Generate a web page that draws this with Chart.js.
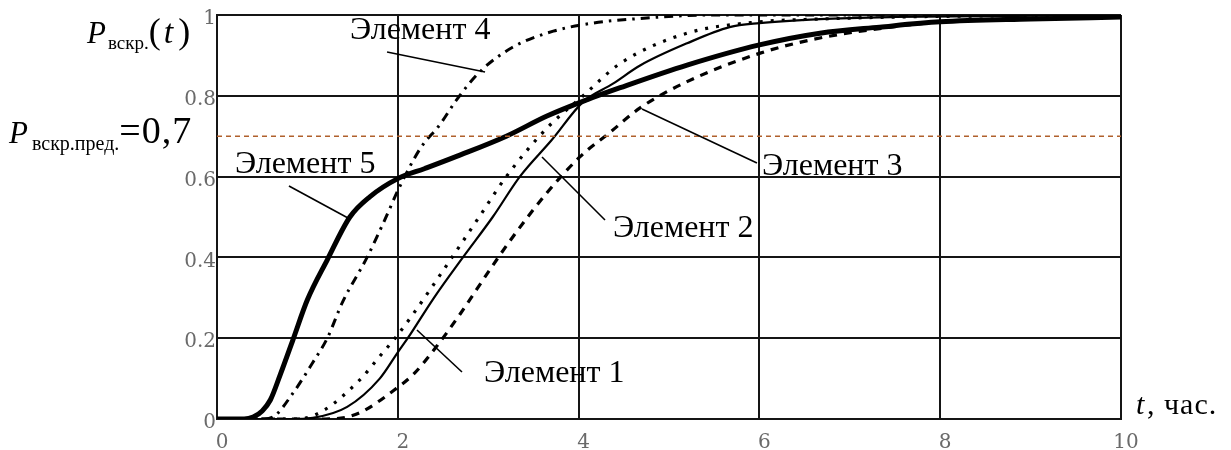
<!DOCTYPE html>
<html><head><meta charset="utf-8">
<script src="https://cdn.jsdelivr.net/npm/chart.js@4.4.1/dist/chart.umd.min.js"></script>
<style>html,body{margin:0;padding:0;background:#fff;}#wrap{width:1231px;height:450px;}</style>
</head><body><div id="wrap"><canvas id="c" width="1231" height="450"></canvas></div>
<script>
// ---- axis ticks ----
const xTicks = [0, 2, 4, 6, 8, 10];
const xTickLabels = ["0", "2", "4", "6", "8", "10"];
const yTicks = [0, 0.2, 0.4, 0.6, 0.8, 1];
const yTickLabels = ["0", "0.2", "0.4", "0.6", "0.8", "1"];

// ---- series (t, hours -> P) ----
const e1T = [0, 0.8, 1.06, 1.44, 1.8, 2.0, 2.11, 2.4, 2.72, 3.05, 3.35, 3.7, 4.05, 4.38, 4.68, 5.2, 5.67, 6.0, 6.67, 7.5, 10];
const e1P = [0, 0, 0.003, 0.03, 0.10, 0.165, 0.20, 0.30, 0.40, 0.50, 0.60, 0.69, 0.785, 0.83, 0.875, 0.93, 0.97, 0.98, 0.99, 0.995, 1.0];

const e2T = [0, 0.9, 1.17, 1.58, 1.8, 1.97, 2.17, 2.6, 2.9, 3.2, 3.65, 4.05, 4.46, 5.2, 6.0, 6.67, 7.5, 10];
const e2P = [0, 0, 0.02, 0.097, 0.155, 0.20, 0.26, 0.40, 0.50, 0.60, 0.72, 0.80, 0.88, 0.955, 0.983, 0.99, 0.995, 1.0];

const e3T = [0, 1.2, 1.44, 1.62, 1.95, 2.17, 2.43, 2.69, 3.02, 3.27, 3.65, 4.02, 4.35, 4.68, 5.2, 6.0, 6.6, 7.22, 8, 9, 10];
const e3P = [0, 0, 0.005, 0.02, 0.07, 0.11, 0.18, 0.26, 0.37, 0.45, 0.56, 0.65, 0.71, 0.77, 0.835, 0.905, 0.94, 0.963, 0.983, 0.99, 0.995];

const e4T = [0, 0.5, 0.62, 0.84, 1.06, 1.22, 1.39, 1.66, 1.85, 2.01, 2.25, 2.47, 2.65, 2.91, 3.27, 3.72, 4.16, 4.6, 5.5, 10];
const e4P = [0, 0, 0.005, 0.064, 0.14, 0.20, 0.29, 0.40, 0.49, 0.57, 0.67, 0.73, 0.79, 0.86, 0.92, 0.96, 0.98, 0.99, 1.0, 1.0];

const e5T = [0, 0.3, 0.4, 0.5, 0.59, 0.7, 0.84, 1.0, 1.22, 1.47, 1.69, 2.0, 2.3, 2.65, 3.2, 3.65, 4.09, 4.46, 5.2, 6.0, 6.67, 7.33, 8, 9, 10];
const e5P = [0, 0, 0.005, 0.02, 0.047, 0.11, 0.196, 0.295, 0.394, 0.50, 0.55, 0.595, 0.62, 0.65, 0.70, 0.75, 0.79, 0.82, 0.876, 0.926, 0.955, 0.97, 0.983, 0.99, 0.995];

const pThreshold = 0.7;
const seriesNames = ["Элемент 1", "Элемент 2", "Элемент 3", "Элемент 4", "Элемент 5"];

// ---- annotation placement (data coords) ----
const labelAt = {
  "Элемент 1": {t: 2.954, p: 0.0916, from: [2.212, 0.2203], to: [2.710, 0.1163]},
  "Элемент 2": {t: 4.381, p: 0.4505, from: [3.595, 0.6485], to: [4.292, 0.4926]},
  "Элемент 3": {t: 6.029, p: 0.604, from: [4.701, 0.7673], to: [5.973, 0.6337]},
  "Элемент 4": {t: 1.471, p: 0.9406, from: [2.965, 0.8589], to: [1.881, 0.9084]},
  "Элемент 5": {t: 0.199, p: 0.6089, from: [1.449, 0.4975], to: [0.796, 0.5767]}
};

const zip = (T, P) => T.map((t, i) => ({x: t, y: P[i]}));

const annot = {
  id: 'annot',
  afterDatasetsDraw(chart) {
    const ctx = chart.ctx, xs = chart.scales.x, ys = chart.scales.y;
    ctx.save();
    ctx.strokeStyle = '#000';
    ctx.lineWidth = 1.6;
    ctx.fillStyle = '#000';
    ctx.font = '32px "Liberation Serif"';
    ctx.textBaseline = 'alphabetic';
    seriesNames.forEach(n => {
      const a = labelAt[n];
      ctx.beginPath();
      ctx.moveTo(xs.getPixelForValue(a.from[0]), ys.getPixelForValue(a.from[1]));
      ctx.lineTo(xs.getPixelForValue(a.to[0]), ys.getPixelForValue(a.to[1]));
      ctx.stroke();
      ctx.fillText(n, xs.getPixelForValue(a.t), ys.getPixelForValue(a.p));
    });
    ctx.restore();
  },
  afterDraw(chart) {
    const ctx = chart.ctx;
    ctx.save();
    ctx.fillStyle = '#000';
    ctx.textBaseline = 'alphabetic';
    // draws segments one after another; [text, font, dy, gapAfter, letterSpacing]
    const run = (x, y, parts) => {
      parts.forEach(([txt, font, dy, gap, ls]) => {
        ctx.font = font;
        ctx.letterSpacing = (ls || 0) + 'px';
        ctx.fillText(txt, x, y + (dy || 0));
        x += ctx.measureText(txt).width + (gap || 0);
      });
      ctx.letterSpacing = '0px';
    };
    // P_вскр.(t)
    run(87, 43, [
      ['P', 'italic 31px "Liberation Serif"', 0, 2],
      ['вскр.', '19px "Liberation Serif"', 6, 0],
      ['(', '36px "Liberation Serif"', 0, 3],
      ['t', 'italic 34px "Liberation Serif"', 0, 5],
      [')', '36px "Liberation Serif"', 0, 0]
    ]);
    // P_вскр.пред.=0,7
    run(9, 143, [
      ['P', 'italic 31px "Liberation Serif"', 0, 4],
      ['вскр.пред.', '20px "Liberation Serif"', 7, 0],
      ['=0,7', '38px "Liberation Serif"', 0, 0, 1]
    ]);
    // t, час.
    ctx.font = 'italic 30px "Liberation Serif"';
    ctx.fillText('t', 1136, 414);
    ctx.letterSpacing = '1px';
    ctx.font = '30px "Liberation Serif"';
    ctx.fillText(', час.', 1147, 414);
    ctx.restore();
  }
};

const tickFont = {family: '"DejaVu Serif"', size: 20};
const tickCol = '#6a6a6a';
const gridCol = '#151515';

new Chart(document.getElementById('c'), {
  type: 'line',
  data: {
    datasets: [
      {label: 'P пред.', data: [{x: 0, y: pThreshold}, {x: 10, y: pThreshold}], borderColor: '#b0602c', borderWidth: 1.6, borderDash: [5, 4], cubicInterpolationMode: 'default', tension: 0},
      {label: seriesNames[2], data: zip(e3T, e3P), borderColor: '#000', borderWidth: 3.2, borderDash: [8, 7]},
      {label: seriesNames[1], data: zip(e2T, e2P), borderColor: '#000', borderWidth: 3.2, borderDash: [3, 8]},
      {label: seriesNames[0], data: zip(e1T, e1P), borderColor: '#000', borderWidth: 2.2},
      {label: seriesNames[3], data: zip(e4T, e4P), borderColor: '#000', borderWidth: 3, borderDash: [9, 6, 2.5, 6]},
      {label: seriesNames[4], data: zip(e5T, e5P), borderColor: '#000', borderWidth: 5}
    ]
  },
  options: {
    responsive: false,
    animation: false,
    layout: {padding: {left: 0, right: 110, top: 15, bottom: 0}},
    plugins: {legend: {display: false}, tooltip: {enabled: false}},
    elements: {point: {radius: 0}, line: {cubicInterpolationMode: 'monotone', borderCapStyle: 'butt', fill: false}},
    scales: {
      x: {
        type: 'linear', min: 0, max: 10,
        afterBuildTicks: s => { s.ticks = xTicks.map(v => ({value: v})); },
        afterFit: s => { s.height = 31; },
        ticks: {callback: v => xTickLabels[xTicks.indexOf(v)], font: tickFont, color: tickCol, padding: 12, labelOffset: 5, maxRotation: 0, autoSkip: false},
        grid: {color: gridCol, lineWidth: 2, drawTicks: false},
        border: {color: gridCol, width: 2}
      },
      y: {
        type: 'linear', min: 0, max: 1,
        afterBuildTicks: s => { s.ticks = yTicks.map(v => ({value: v})); },
        afterFit: s => { s.width = 217; },
        ticks: {callback: v => yTickLabels[yTicks.findIndex(t => Math.abs(t - v) < 1e-9)], font: tickFont, color: tickCol, padding: 1, labelOffset: 4, autoSkip: false},
        grid: {color: gridCol, lineWidth: 2, drawTicks: false},
        border: {color: gridCol, width: 2}
      }
    }
  },
  plugins: [annot]
});
</script>
</body></html>
